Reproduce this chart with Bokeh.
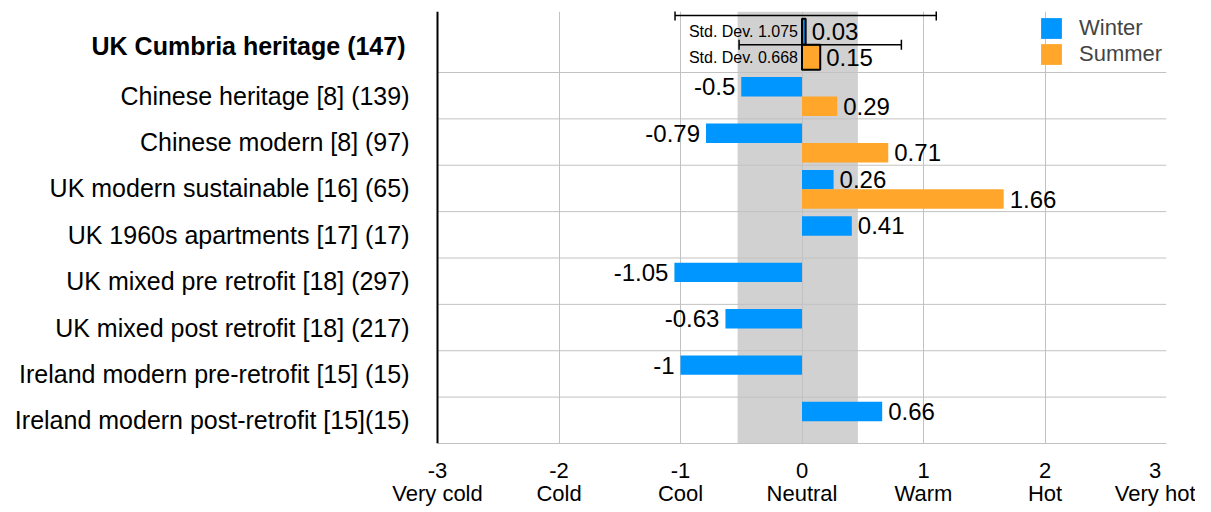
from bokeh.plotting import figure
from bokeh.models import (ColumnDataSource, FixedTicker, Range1d, Whisker,
                          TeeHead, BoxAnnotation, Legend, LegendItem, Span)
from bokeh.core.properties import value
from bokeh.embed import file_html
from bokeh.resources import INLINE

# ---------------- data ----------------
categories = [
    "Chinese heritage [8] (139)",
    "Chinese modern [8] (97)",
    "UK modern sustainable [16] (65)",
    "UK 1960s apartments [17] (17)",
    "UK mixed pre retrofit [18] (297)",
    "UK mixed post retrofit [18] (217)",
    "Ireland modern pre-retrofit [15] (15)",
    "Ireland modern post-retrofit [15](15)",
]
winter = [-0.5, -0.79, 0.26, 0.41, -1.05, -0.63, -1.0, 0.66]
summer = [0.29, 0.71, 1.66, None, None, None, None, None]

highlight_label = "UK Cumbria heritage (147)"
highlight_winter = 0.03
highlight_summer = 0.15
highlight_winter_sd = 1.075
highlight_summer_sd = 0.668

x_ticks = [-3, -2, -1, 0, 1, 2, 3]
x_tick_names = ["Very cold", "Cold", "Cool", "Neutral", "Warm", "Hot", "Very hot"]
neutral_zone = [-0.53, 0.46]

BLUE = "#0096FF"
ORANGE = "#FFA62B"
GRID = "#c2c2c2"
FONT = "Liberation Sans"

# layout (pixels)
AXIS_PX = 437          # left value axis position
FRAME_W = 1166
FRAME_H = 432
XMIN, XMAX = x_ticks[0], x_ticks[-1]
unit_px = (FRAME_W - AXIS_PX) / (XMAX - XMIN)
x_start = XMIN - AXIS_PX / unit_px

n = len(categories)
ypos = [n - 1 - i for i in range(n)]          # category centres
hy = n                                          # highlight row centre

p = figure(frame_width=FRAME_W, frame_height=FRAME_H, output_backend="svg",
           toolbar_location=None, y_axis_location=None,
           x_range=Range1d(x_start, XMAX), y_range=Range1d(-0.5, 8.815),
           min_border_left=0, min_border_right=29, min_border_top=11,
           min_border_bottom=40)
p.outline_line_color = None
p.background_fill_color = "white"

# neutral band
p.add_layout(BoxAnnotation(left=neutral_zone[0], right=neutral_zone[1],
                           fill_color="#d1d1d1", fill_alpha=1, line_color=None,
                           level="image"))

# grids
p.xgrid.ticker = FixedTicker(ticks=x_ticks[1:])
p.xgrid.grid_line_color = GRID
p.ygrid.grid_line_color = None
bounds = [y + 0.5 for y in range(n)]
p.segment(x0=XMIN, x1=XMAX, y0=bounds, y1=bounds, line_color=GRID, line_width=1)

# left axis line
p.add_layout(Span(location=XMIN, dimension="height", line_color="black",
                  line_width=2, level="annotation"))

# category labels
p.text(x=XMIN, y=ypos, text=categories, x_offset=-28, text_align="right",
       text_baseline="middle", text_font=value(FONT), text_font_size="25px",
       text_color="black")
p.text(x=[XMIN], y=[hy + 0.08], text=[highlight_label], x_offset=-32,
       text_align="right", text_baseline="middle", text_font=value(FONT),
       text_font_size="25px", text_font_style="bold", text_color="black")

# winter / summer bars for categories
w_src = ColumnDataSource(dict(
    y=[y + 0.19 for y in ypos], v=winter,
    lab=[f"{v:g}" for v in winter],
    align=["left" if v >= 0 else "right" for v in winter],
    off=[6 if v >= 0 else -6 for v in winter]))
s_y = [y - 0.23 for y, v in zip(ypos, summer) if v is not None]
s_v = [v for v in summer if v is not None]
s_src = ColumnDataSource(dict(
    y=s_y, v=s_v, lab=[f"{v:g}" for v in s_v],
    align=["left" if v >= 0 else "right" for v in s_v],
    off=[6 if v >= 0 else -6 for v in s_v]))

wr = p.hbar(y="y", left=0, right="v", height=0.42, source=w_src,
            fill_color=BLUE, line_color=None)
sr = p.hbar(y="y", left=0, right="v", height=0.42, source=s_src,
            fill_color=ORANGE, line_color=None)

for src in (w_src, s_src):
    p.text(x="v", y="y", text="lab", source=src, text_align="align",
           x_offset="off", text_baseline="middle",
           text_font=value(FONT), text_font_size="24px", text_color="black")

# highlight row (Cumbria)
h_src = ColumnDataSource(dict(
    y=[hy + 0.38, hy - 0.17], v=[highlight_winter, highlight_summer],
    h=[0.56, 0.54], color=[BLUE, ORANGE],
    lab=[f"{highlight_winter:g}", f"{highlight_summer:g}"],
    sd=[f"Std. Dev. {highlight_winter_sd:g}", f"Std. Dev. {highlight_summer_sd:g}"],
    lo=[highlight_winter - highlight_winter_sd, highlight_summer - highlight_summer_sd],
    hi=[highlight_winter + highlight_winter_sd, highlight_summer + highlight_summer_sd],
    ey=[hy + 0.73, hy + 0.10]))
p.hbar(y="y", left=0, right="v", height="h", source=h_src,
       fill_color="color", line_color="black", line_width=2)
p.text(x="v", y="y", text="lab", source=h_src, x_offset=6, text_align="left",
       text_baseline="middle", text_font=value(FONT), text_font_size="24px")
p.text(x=0, y="y", text="sd", source=h_src, x_offset=-4, text_align="right",
       text_baseline="middle", text_font=value(FONT), text_font_size="16px")
p.add_layout(Whisker(base="ey", lower="lo", upper="hi", dimension="width",
                     source=h_src, line_color="black", line_width=1.5,
                     level="annotation",
                     upper_head=TeeHead(size=10, line_color="black", line_width=1.5),
                     lower_head=TeeHead(size=10, line_color="black", line_width=1.5)))

# bottom axis
p.xaxis.ticker = FixedTicker(ticks=x_ticks)
p.xaxis.bounds = (XMIN, XMAX)
p.xaxis.major_label_overrides = {t: f"{t}\n{nm}" for t, nm in zip(x_ticks, x_tick_names)}
p.xaxis.major_label_text_font = FONT
p.xaxis.major_label_text_font_size = "22px"
p.xaxis.major_label_text_line_height = 0.95
p.xaxis.major_label_text_color = "black"
p.xaxis.major_label_standoff = 8
p.xaxis.major_tick_line_color = None
p.xaxis.minor_tick_line_color = None
p.xaxis.axis_line_color = GRID

legend = Legend(items=[LegendItem(label="Winter", renderers=[wr]),
                       LegendItem(label="Summer", renderers=[sr])],
                location=(1038, 376), glyph_width=26, glyph_height=26,
                label_standoff=15, spacing=-1, padding=0, margin=0,
                border_line_color=None, background_fill_alpha=0,
                label_text_font=FONT, label_text_font_size="22px",
                label_text_line_height=1.0, label_height=24)
p.add_layout(legend)

open("out.html", "w").write(file_html(p, INLINE))
